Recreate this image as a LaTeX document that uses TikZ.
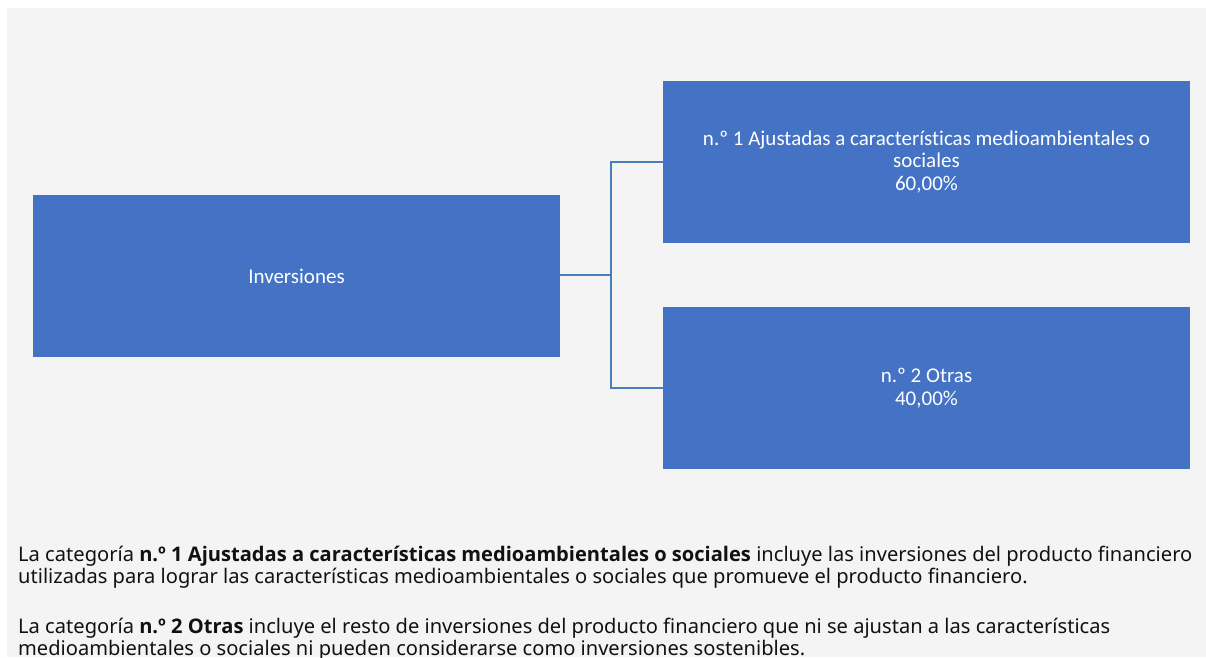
\documentclass[tikz,border=0pt]{standalone}
\usepackage{fontspec}
\setmainfont{Noto Sans}
\newfontfamily\boldbody{Open Sans}
\newfontfamily\boxfont{Carlito}[Ligatures=NoCommon]
\newcommand{\bodybold}[1]{{\boldbody\bfseries #1}}
\definecolor{bgcol}{HTML}{F4F4F4}
\definecolor{boxcol}{HTML}{4472C4}
\definecolor{linecol}{HTML}{4A7EBB}
\definecolor{txtcol}{HTML}{111111}
\tikzset{
  blockbox/.style={fill=boxcol, draw=none, minimum width=527pt, minimum height=162pt,
    inner sep=2pt, text=white, align=center, font=\boxfont\fontsize{21}{22.5}\selectfont},
  conn/.style={draw=linecol, line width=2pt},
  bodyline/.style={anchor=base west, inner sep=0pt, text=txtcol, font=\fontsize{20.1}{22}\selectfont}
}
\begin{document}
\begin{tikzpicture}[x=1pt,y=-1pt]
\useasboundingbox (0,0) rectangle (1206,657);
\clip (0,0) rectangle (1206,657);
\fill[white] (0,0) rectangle (1206,657);
\fill[bgcol] (7,8) rectangle (1206,657);
\node[blockbox] (inv) at (296.5,276) {Inversiones};
\node[blockbox] (b1) at (926.5,162) {n.º 1 Ajustadas a características medioambientales o \\ sociales\\60,00\%};
\node[blockbox] (b2) at (926.5,388) {n.º 2 Otras\\40,00\%};
\coordinate (j) at (611,275);
\draw[conn] (inv.east|-j) -- (j);
\draw[conn] (j) |- (b1.west);
\draw[conn] (j) |- (b2.west);
\node[bodyline] (t1) at (18,561) {La categoría \bodybold{n.º 1 Ajustadas a características medioambientales o sociales} incluye las inversiones del producto financiero};
\node[bodyline] (t2) at (18,583) {utilizadas para lograr las características medioambientales o sociales que promueve el producto financiero.};
\node[bodyline] (t3) at (18,633) {La categoría \bodybold{n.º 2 Otras} incluye el resto de inversiones del producto financiero que ni se ajustan a las características};
\node[bodyline] (t4) at (18,655) {medioambientales o sociales ni pueden considerarse como inversiones sostenibles.};
\end{tikzpicture}
\end{document}
